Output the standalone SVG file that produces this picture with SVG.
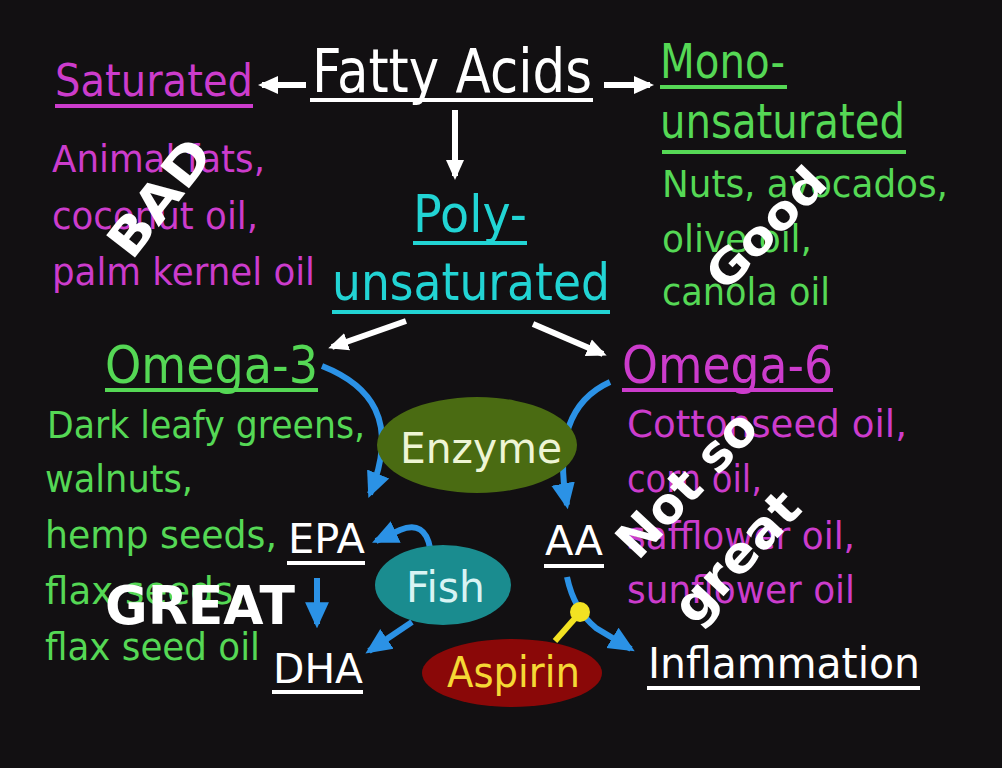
<svg xmlns="http://www.w3.org/2000/svg" width="1002" height="768" viewBox="0 0 1002 768">
<style>
text{font-family:"DejaVu Sans","Verdana",sans-serif;}
.w{fill:#ffffff}
.m{fill:#cc3ccc}
.g{fill:#55d855}
.c{fill:#22d4d4}
.t{font-size:37px}
.h{font-size:48px}
.lbl{font-weight:bold;fill:#ffffff}
.ul{stroke-width:4}
.wa{stroke:#ffffff;stroke-width:6;fill:none}
.ba{stroke:#2b92e6;stroke-width:6;fill:none}
</style>
<defs>
<marker id="aw" viewBox="0 0 20 20" refX="16" refY="10" markerWidth="20" markerHeight="20" orient="auto" markerUnits="userSpaceOnUse"><path d="M0,1 L20,10 L0,19 z" fill="#ffffff"/></marker>
<marker id="ab" viewBox="0 0 24 24" refX="20" refY="12" markerWidth="26" markerHeight="26" orient="auto" markerUnits="userSpaceOnUse"><path d="M0,1 L24,12 L0,23 z" fill="#2b92e6"/></marker>
</defs>
<rect x="0" y="0" width="1002" height="768" fill="#121012"/>

<g id="connectors">
<path class="wa" d="M306,85 L262,85" marker-end="url(#aw)"/>
<path class="wa" d="M604,85 L650,85" marker-end="url(#aw)"/>
<path class="wa" d="M455,110 L455,176" marker-end="url(#aw)"/>
<path class="wa" d="M406,321 L332,347" marker-end="url(#aw)"/>
<path class="wa" d="M533,324 L603,354" marker-end="url(#aw)"/>
<path class="ba" d="M322,366 C370,385 400,420 370,494" marker-end="url(#ab)"/>
<path class="ba" d="M610,382 C570,400 555,440 567,505" marker-end="url(#ab)"/>
<path class="ba" d="M430,548 Q425,520 400,530 L376,541" marker-end="url(#ab)"/>
<path class="ba" d="M317,578 L317,624" marker-end="url(#ab)"/>
<path class="ba" d="M412,622 L369,651" marker-end="url(#ab)"/>
<path class="ba" d="M567,577 Q574,610 596,628 L631,649" marker-end="url(#ab)"/>
<line x1="555" y1="641" x2="577" y2="616" stroke="#f2e222" stroke-width="6"/>
<circle cx="580" cy="612" r="10" fill="#f2e222"/>
</g>

<g id="fatty-acids">
<text class="w" x="312" y="92" font-size="60" textLength="280" lengthAdjust="spacingAndGlyphs">Fatty Acids</text>
<line class="ul" x1="310" y1="100" x2="593" y2="100" stroke="#ffffff"/>
</g>

<g id="saturated">
<text class="m" x="55" y="96" font-size="44" textLength="198" lengthAdjust="spacingAndGlyphs">Saturated</text>
<line class="ul" x1="55" y1="106" x2="253" y2="106" stroke="#cc3ccc"/>
<text class="m t" x="52" y="172" textLength="213" lengthAdjust="spacingAndGlyphs">Animal fats,</text>
<text class="m t" x="52" y="229" textLength="206" lengthAdjust="spacingAndGlyphs">coconut oil,</text>
<text class="m t" x="52" y="285" textLength="263" lengthAdjust="spacingAndGlyphs">palm kernel oil</text>
</g>

<g id="monounsaturated">
<text class="g h" x="660" y="78" textLength="125" lengthAdjust="spacingAndGlyphs">Mono-</text>
<line class="ul" x1="660" y1="87" x2="787" y2="87" stroke="#55d855"/>
<text class="g h" x="660" y="138" textLength="245" lengthAdjust="spacingAndGlyphs">unsaturated</text>
<line class="ul" x1="662" y1="152" x2="906" y2="152" stroke="#55d855"/>
<text class="g t" x="662" y="197" textLength="286" lengthAdjust="spacingAndGlyphs">Nuts, avocados,</text>
<text class="g t" x="662" y="252" textLength="150" lengthAdjust="spacingAndGlyphs">olive oil,</text>
<text class="g t" x="662" y="305" textLength="168" lengthAdjust="spacingAndGlyphs">canola oil</text>
</g>

<g id="polyunsaturated">
<text class="c" x="413" y="232" font-size="52" textLength="114" lengthAdjust="spacingAndGlyphs">Poly-</text>
<line class="ul" x1="413" y1="243" x2="527" y2="243" stroke="#22d4d4"/>
<text class="c" x="332" y="300" font-size="52" textLength="278" lengthAdjust="spacingAndGlyphs">unsaturated</text>
<line class="ul" x1="332" y1="312" x2="610" y2="312" stroke="#22d4d4"/>
</g>

<g id="omega-3">
<text class="g" x="105" y="383" font-size="52" textLength="213" lengthAdjust="spacingAndGlyphs">Omega-3</text>
<line class="ul" x1="105" y1="390" x2="318" y2="390" stroke="#55d855"/>
<text class="g t" x="47" y="438" textLength="318" lengthAdjust="spacingAndGlyphs">Dark leafy greens,</text>
<text class="g t" x="45" y="492" textLength="148" lengthAdjust="spacingAndGlyphs">walnuts,</text>
<text class="g t" x="45" y="548" textLength="232" lengthAdjust="spacingAndGlyphs">hemp seeds,</text>
<text class="g t" x="45" y="604" textLength="200" lengthAdjust="spacingAndGlyphs">flax seeds,</text>
<text class="g t" x="45" y="660" textLength="215" lengthAdjust="spacingAndGlyphs">flax seed oil</text>
</g>

<g id="omega-6">
<text class="m" x="622" y="383" font-size="52" textLength="211" lengthAdjust="spacingAndGlyphs">Omega-6</text>
<line class="ul" x1="622" y1="390" x2="833" y2="390" stroke="#cc3ccc"/>
<text class="m t" x="627" y="437" textLength="280" lengthAdjust="spacingAndGlyphs">Cottonseed oil,</text>
<text class="m t" x="627" y="492" textLength="135" lengthAdjust="spacingAndGlyphs">corn oil,</text>
<text class="m t" x="627" y="549" textLength="228" lengthAdjust="spacingAndGlyphs">safflower oil,</text>
<text class="m t" x="627" y="603" textLength="228" lengthAdjust="spacingAndGlyphs">sunflower oil</text>
</g>

<g id="enzyme">
<ellipse cx="477" cy="445" rx="100" ry="48" fill="#4a6b12"/>
<text x="400" y="463" font-size="42" fill="#eef5d5" textLength="162" lengthAdjust="spacingAndGlyphs">Enzyme</text>
</g>

<g id="fish">
<ellipse cx="443" cy="585" rx="68" ry="40" fill="#1a8c8f"/>
<text x="406" y="602" font-size="42" fill="#d8f4f4" textLength="79" lengthAdjust="spacingAndGlyphs">Fish</text>
</g>

<g id="aspirin">
<ellipse cx="512" cy="673" rx="90" ry="34" fill="#8a0808"/>
<text x="447" y="687" font-size="42" fill="#f5d835" textLength="133" lengthAdjust="spacingAndGlyphs">Aspirin</text>
</g>

<g id="epa">
<text class="w" x="288" y="553" font-size="40" textLength="77" lengthAdjust="spacingAndGlyphs">EPA</text>
<line class="ul" x1="287" y1="563" x2="365" y2="563" stroke="#ffffff"/>
</g>

<g id="dha">
<text class="w" x="273" y="683" font-size="40" textLength="90" lengthAdjust="spacingAndGlyphs">DHA</text>
<line class="ul" x1="272" y1="692" x2="363" y2="692" stroke="#ffffff"/>
</g>

<g id="aa">
<text class="w" x="545" y="555" font-size="40" textLength="58" lengthAdjust="spacingAndGlyphs">AA</text>
<line class="ul" x1="544" y1="566" x2="604" y2="566" stroke="#ffffff"/>
</g>

<g id="inflammation">
<text class="w" x="648" y="678" font-size="42" textLength="272" lengthAdjust="spacingAndGlyphs">Inflammation</text>
<line class="ul" x1="647" y1="688" x2="920" y2="688" stroke="#ffffff"/>
</g>

<g id="labels">
<text class="lbl" x="160" y="198" font-size="50" text-anchor="middle" dominant-baseline="central" textLength="135" lengthAdjust="spacingAndGlyphs" transform="rotate(-52 160 198)">BAD</text>
<text class="lbl" x="766" y="228" font-size="46" text-anchor="middle" dominant-baseline="central" textLength="150" lengthAdjust="spacingAndGlyphs" transform="rotate(-46 766 228)">Good</text>
<text class="lbl" x="687" y="484" font-size="50" text-anchor="middle" dominant-baseline="central" textLength="180" lengthAdjust="spacingAndGlyphs" transform="rotate(-47 687 484)">Not so</text>
<text class="lbl" x="737" y="557" font-size="50" text-anchor="middle" dominant-baseline="central" textLength="160" lengthAdjust="spacingAndGlyphs" transform="rotate(-47 737 557)">great</text>
<text class="lbl" x="105" y="624" font-size="54" textLength="190" lengthAdjust="spacingAndGlyphs">GREAT</text>
</g>
</svg>
